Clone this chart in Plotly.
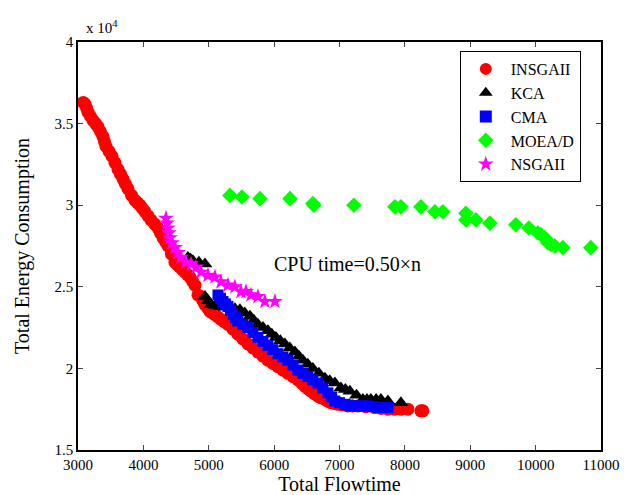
import plotly.graph_objects as go

# INSGAII (red circles)
insgaii_x = [3080, 3107, 3130, 3153, 3190, 3229, 3270, 3306, 3345, 3382, 3405, 3428, 3475, 3520,
             3565, 3612, 3650, 3688, 3725, 3765, 3820, 3872, 3910, 3948, 3985, 4024, 4070, 4116,
             4170, 4223, 4260, 4300, 4340, 4376, 4430, 4483, 4520, 4560, 4600, 4636, 4675, 4712,
             4750, 4789, 4835, 4881, 4910, 4942, 4980, 5018, 5055, 5095, 5140, 5186, 5240, 5294,
             5370, 5446, 5520, 5599, 5675, 5752, 5830, 5905, 5980, 6058, 6135, 6211, 6290, 6364,
             6420, 6471, 6520, 6563, 6615, 6670, 6720, 6777, 6820, 6868, 6920, 6975, 7050, 7128,
             7200, 7281, 7400, 7541, 7640, 7740, 7840, 7939, 8046, 8245, 8275]
insgaii_y = [36300, 36200, 35950, 35700, 35450, 35200, 35000, 34800, 34500, 34200, 33900, 33600,
             33300, 33000, 32600, 32200, 31900, 31600, 31300, 31000, 30600, 30300, 30150, 30000,
             29800, 29600, 29350, 29100, 28850, 28600, 28300, 28000, 27750, 27500, 27000, 26500,
             26350, 26200, 26050, 25900, 25750, 25600, 25350, 25100, 24500, 24400, 24150, 23900,
             23700, 23500, 23400, 23300, 23150, 23000, 22850, 22700, 22400, 22100, 21800, 21500,
             21250, 21000, 20750, 20500, 20300, 20100, 19900, 19700, 19500, 19300, 19100, 18900,
             18750, 18600, 18450, 18300, 18200, 18100, 18000, 17900, 17850, 17800, 17750, 17700,
             17700, 17700, 17650, 17600, 17550, 17500, 17500, 17500, 17500, 17400, 17400]

# KCA (black triangles)
kca_x = [4682, 4720, 4758, 4850, 4942, 4942, 4990, 5034, 5100, 5171, 5250, 5324, 5400, 5477,
         5550, 5630, 5690, 5752, 5830, 5905, 5965, 6027, 6095, 6165, 6240, 6318, 6380, 6440,
         6515, 6593, 6685, 6777, 6850, 6930, 7021, 7090, 7159, 7260, 7358, 7420, 7480, 7560,
         7633, 7740, 7939]
kca_y = [26800, 26700, 26600, 26500, 26400, 24400, 24150, 23900, 23850, 23800, 23750, 23700,
         23650, 23600, 23400, 23200, 22950, 22700, 22500, 22300, 22100, 21900, 21700, 21500,
         21250, 21000, 20750, 20500, 20250, 20000, 19700, 19400, 19250, 19100, 18800, 18700,
         18600, 18350, 18100, 18100, 18100, 18100, 18100, 18000, 17900]

# CMA (blue squares)
cma_x = [5141, 5180, 5217, 5255, 5294, 5330, 5370, 5410, 5446, 5520, 5599, 5675, 5752, 5830,
         5905, 5980, 6058, 6135, 6211, 6290, 6364, 6440, 6517, 6590, 6670, 6745, 6823, 6880,
         6930, 7000, 7083, 7130, 7175, 7240, 7312, 7370, 7434, 7510, 7587, 7660, 7740]
cma_y = [24500, 24300, 24100, 23950, 23800, 23550, 23300, 23100, 22900, 22700, 22500, 22200,
         21900, 21650, 21400, 21150, 20900, 20700, 20500, 20200, 19900, 19700, 19500, 19300,
         19100, 18800, 18500, 18250, 18000, 17900, 17800, 17750, 17700, 17700, 17700, 17700,
         17700, 17650, 17600, 17600, 17600]

# MOEA/D (green diamonds)
moead_x = [5324, 5508, 5783, 6242, 6593, 6608, 7220, 7847, 7939, 8245, 8459, 8581, 8933, 8933,
           9086, 9300, 9697, 9896, 10034, 10080, 10141, 10187, 10233, 10294, 10416, 10844]
moead_y = [30600, 30500, 30400, 30400, 30100, 30000, 30000, 29900, 29900, 29900, 29600, 29600,
           29500, 29100, 29100, 28900, 28800, 28600, 28300, 28200, 28000, 27700, 27600, 27500,
           27400, 27400]

# NSGAII (magenta stars)
nsgaii_x = [4345, 4361, 4376, 4391, 4407, 4437, 4483, 4529, 4575, 4651, 4728, 4804, 4881, 4988,
            5095, 5186, 5294, 5400, 5492, 5569, 5645, 5752, 5859, 6012]
nsgaii_y = [29200, 28900, 28600, 28300, 28000, 27700, 27400, 27100, 26800, 26500, 26400, 26200,
            25900, 25700, 25600, 25300, 25100, 25000, 24700, 24700, 24500, 24400, 24100, 24100]

x_ticks = [3000, 4000, 5000, 6000, 7000, 8000, 9000, 10000, 11000]
x_tick_text = ["3000", "4000", "5000", "6000", "7000", "8000", "9000", "10000", "11000"]
y_ticks = [15000, 20000, 25000, 30000, 35000, 40000]
y_tick_text = ["1.5", "2", "2.5", "3", "3.5", "4"]

FONT = "Liberation Serif, Times New Roman, serif"

fig = go.Figure()
fig.add_trace(go.Scatter(x=insgaii_x, y=insgaii_y, mode="markers", name="INSGAII",
                         marker=dict(symbol="circle", size=13, color="#ff0000", line=dict(width=0))))
fig.add_trace(go.Scatter(x=kca_x, y=kca_y, mode="markers", name="KCA",
                         marker=dict(symbol="triangle-up", size=13, color="#000000", line=dict(width=0))))
fig.add_trace(go.Scatter(x=cma_x, y=cma_y, mode="markers", name="CMA",
                         marker=dict(symbol="square", size=11, color="#0000ff", line=dict(width=0))))
fig.add_trace(go.Scatter(x=moead_x, y=moead_y, mode="markers", name="MOEA/D",
                         marker=dict(symbol="diamond", size=12, color="#00ff00", line=dict(width=0))))
fig.add_trace(go.Scatter(x=nsgaii_x, y=nsgaii_y, mode="markers", name="NSGAII",
                         marker=dict(symbol="star", size=12, color="#ff00ff", line=dict(width=0))))

fig.update_layout(
    width=634, height=495,
    margin=dict(l=70, r=41, t=34, b=47),
    paper_bgcolor="white", plot_bgcolor="white",
    font=dict(family=FONT, color="black", size=15),
    showlegend=True,
    legend=dict(x=0.73, y=0.978, xanchor="left", yanchor="top",
                bgcolor="white", bordercolor="black", borderwidth=1,
                font=dict(family=FONT, size=16, color="black"),
                itemsizing="constant", itemwidth=40),
    annotations=[
        dict(x=7128, y=26400, xref="x", yref="y", text="CPU time=0.50×n", showarrow=False,
             font=dict(family=FONT, size=20, color="black")),
        dict(x=0.0, y=1.0, xref="paper", yref="paper", xanchor="left", yanchor="bottom",
             xshift=6, yshift=4, text="x 10<sup>4</sup>", showarrow=False,
             font=dict(family=FONT, size=15, color="black")),
    ],
)
fig.update_xaxes(range=[3000, 11000], tickvals=x_ticks, ticktext=x_tick_text, ticks="inside", ticklen=5,
                 showline=True, linecolor="black", linewidth=1.5, mirror="ticks",
                 showgrid=False, zeroline=False,
                 title=dict(text="Total Flowtime", font=dict(family=FONT, size=20), standoff=4),
                 tickfont=dict(family=FONT, size=15))
fig.update_yaxes(range=[15000, 40000], tickvals=y_ticks, ticktext=y_tick_text, ticks="inside",
                 ticklen=5, showline=True, linecolor="black", linewidth=1.5, mirror="ticks",
                 showgrid=False, zeroline=False,
                 title=dict(text="Total Energy Consumption", font=dict(family=FONT, size=20), standoff=20),
                 tickfont=dict(family=FONT, size=15))

fig.write_html("out.html")
